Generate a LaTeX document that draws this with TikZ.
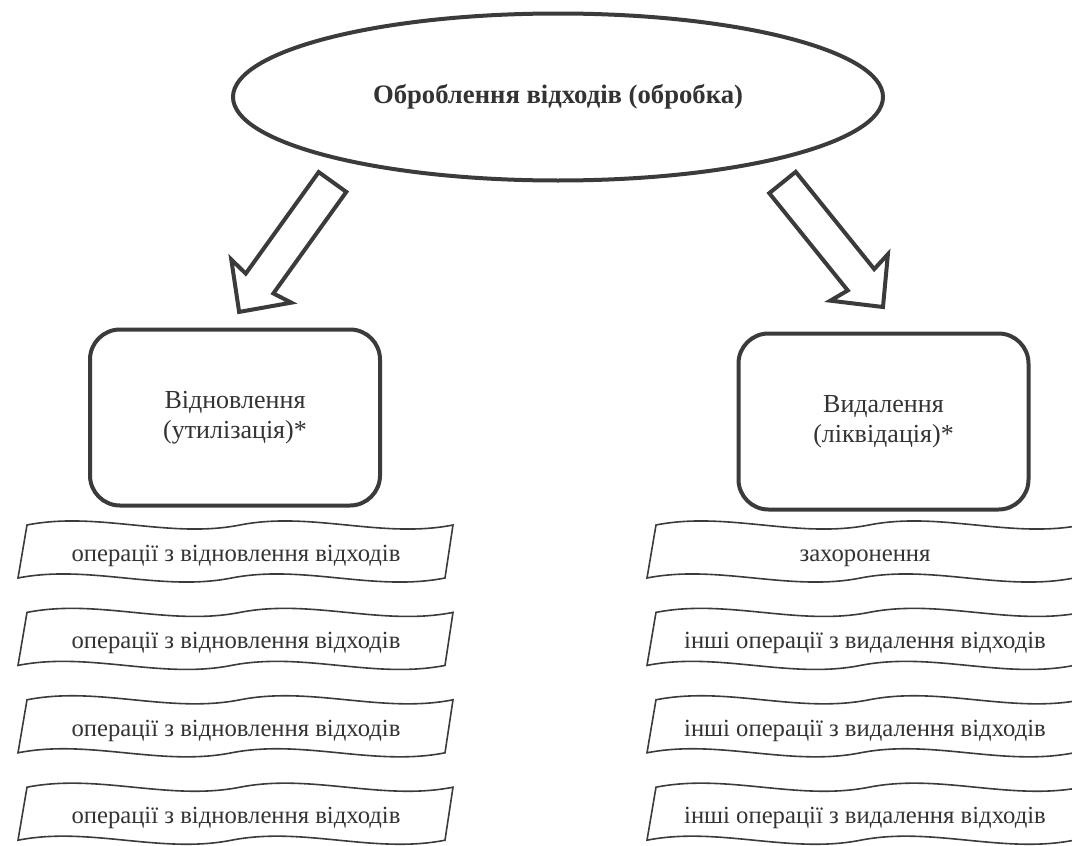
\documentclass[tikz,border=0pt]{standalone}
\usepackage{fontspec}
\setmainfont{Liberation Serif}
\usetikzlibrary{shapes.geometric}

\newlength{\du}
\setlength{\du}{0.75pt}
\definecolor{dialinecolor}{rgb}{0.23,0.23,0.23}
\definecolor{diatextcolor}{rgb}{0.20,0.20,0.20}

% wavy outline round a named text node (placed from its baseline)
\newcommand{\waveshape}[1]{%
\draw[waveline,shift={(#1.base)}] (-209,-36.5) .. controls (-138,-50.5) and (-67,-22.5) .. (4,-36.5)
  .. controls (75,-50.5) and (146,-22.5) .. (217,-36.5) -- (209,16.5)
  .. controls (138,30.5) and (67,2.5) .. (-4.5,16.5)
  .. controls (-75,30.5) and (-147,2.5) .. (-218,16.5) -- cycle;}

% hollow block arrow from a named tail coordinate, #2 = direction
\newcommand{\blockarrow}[2]{%
\draw[bigarrow,shift={(#1)},rotate=#2] (0,-17) -- (125,-17) -- (122,-37) -- (160,0)
  -- (122,37) -- (125,17) -- (0,17) -- cycle;}

\begin{document}
\begin{tikzpicture}[x=\du,y=-\du,
  oval/.style={ellipse,draw=dialinecolor,line width=4\du,minimum width=650\du,minimum height=167\du,
    text=diatextcolor,font=\fontsize{20}{24}\selectfont\bfseries},
  bigarrow/.style={draw=dialinecolor,line width=4\du,line join=miter},
  kindbox/.style={rectangle,rounded corners=30\du,draw=dialinecolor,line width=4\du,minimum width=290\du,
    minimum height=176\du,align=center,text=diatextcolor,font=\fontsize{19.5}{22.5}\selectfont},
  optext/.style={anchor=base,text=diatextcolor,font=\fontsize{18.5}{22}\selectfont,inner sep=0pt},
  waveline/.style={draw=dialinecolor,line width=1.6\du}]
\useasboundingbox (0,0) rectangle (1072,846);

% top
\node[oval] (treat) at (558,97) {Оброблення відходів (обробка)};

% arrows
\coordinate (arrLtail) at (332.5,182);
\coordinate (arrRtail) at (782.5,182.5);
\blockarrow{arrLtail}{234.3}
\blockarrow{arrRtail}{308.9}

% two kinds
\node[kindbox] (recov) at (235,417.5) {Відновлення\\(утилізація)*};
\node[kindbox] (disp) at (883.5,421.5) {Видалення\\(ліквідація)*};

% left column
\node[optext] (opL1) at (236,561.5) {операції з відновлення відходів};
\waveshape{opL1}
\node[optext] (opL2) at (236,648.9) {операції з відновлення відходів};
\waveshape{opL2}
\node[optext] (opL3) at (236,736.3) {операції з відновлення відходів};
\waveshape{opL3}
\node[optext] (opL4) at (236,823.7) {операції з відновлення відходів};
\waveshape{opL4}

% right column
\node[optext] (opR1) at (865,561.5) {захоронення};
\waveshape{opR1}
\node[optext] (opR2) at (865,648.9) {інші операції з видалення відходів};
\waveshape{opR2}
\node[optext] (opR3) at (865,736.3) {інші операції з видалення відходів};
\waveshape{opR3}
\node[optext] (opR4) at (865,823.7) {інші операції з видалення відходів};
\waveshape{opR4}
\end{tikzpicture}
\end{document}
